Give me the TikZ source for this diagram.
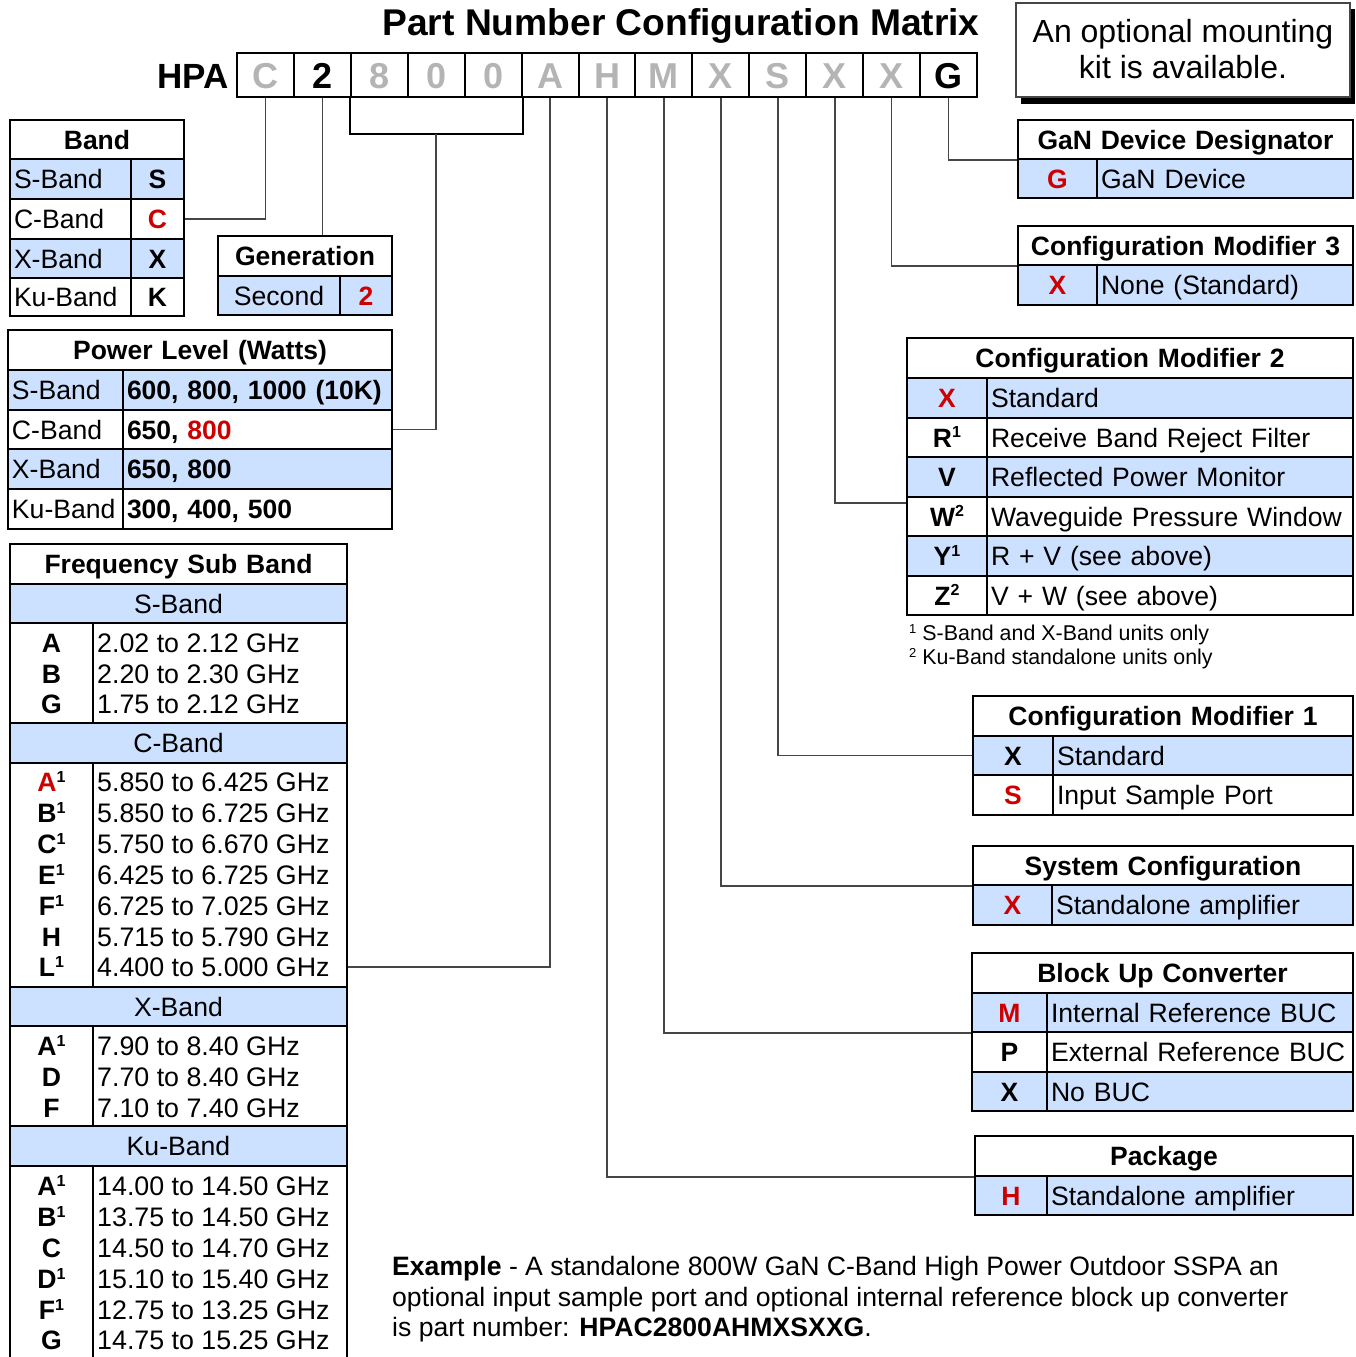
\documentclass[tikz,border=0pt]{standalone}
\usepackage{fontspec}
\setmainfont{Liberation Sans}
\usetikzlibrary{calc}
\definecolor{cellblue}{RGB}{204,224,255}
\definecolor{partred}{RGB}{204,0,0}
\definecolor{digitgray}{RGB}{180,180,180}
\definecolor{leader}{RGB}{70,70,70}
\newcommand\fsz[1]{\fontsize{#1}{#1}\selectfont}
\newcommand\sups[1]{\raisebox{9.5pt}[0pt][0pt]{\fontsize{16}{16}\selectfont #1}}
\newcommand\rd[1]{\textcolor{partred}{#1}}
\newcommand\cellbox[7]{%
  \pgfmathsetmacro\cbw{#4-#2}\pgfmathsetmacro\cbh{#5-#3}%
  \pgfmathsetmacro\cbt{#4-#2-8}%
  \pgfmathsetmacro\cbx{(#2+#4)/2}\pgfmathsetmacro\cby{(#3+#5)/2}%
  \node[tcell,#6,minimum width=\cbw pt,minimum height=\cbh pt,text width=\cbt pt] (#1) at (\cbx,\cby) {#7};}
\begin{document}
\begin{tikzpicture}[x=1pt,y=-1pt,
  tcell/.style={draw=black,line width=2.2pt,inner xsep=4pt,inner ysep=0pt,text height=19pt,text depth=0pt,font=\fsz{26.6},align=left},
  ctr/.style={align=center},
  hd/.style={align=center,font=\bfseries\fsz{26.5}},
  bd/.style={font=\bfseries\fsz{26.5}},
  bl/.style={fill=cellblue},
  dcell/.style={draw=black,line width=2pt,minimum width=56.923pt,minimum height=44pt,inner sep=0pt,text height=26pt,text depth=0pt,font=\bfseries\fsz{36}},
  fline/.style={inner sep=0pt,text height=19pt,text depth=0pt,font=\fsz{26.8}},
  fletter/.style={fline,font=\bfseries\fsz{26.6}},
  lead/.style={draw=leader,line width=1.6pt},
  brack/.style={draw=black,line width=2pt}]
\useasboundingbox (0,0) rectangle (1355,1357);
\clip (0,0) rectangle (1355,1357);

% title and part number
\node[anchor=base,inner sep=0pt,font=\bfseries\fsz{37.2}] (title) at (681,35) {Part Number Configuration Matrix};
\node[anchor=base east,inner sep=0pt,font=\bfseries\fsz{35}] (hpa) at (229,88) {HPA};
\foreach \c/\col [count=\i] in {C/digitgray,2/black,8/digitgray,0/digitgray,0/digitgray,A/digitgray,H/digitgray,M/digitgray,X/digitgray,S/digitgray,X/digitgray,X/digitgray,G/black}
  \node[dcell,text=\col] (d\i) at ({237+(\i-0.5)*56.923},75) {\c};

% mounting kit note
\fill[black] (1021,9) rectangle (1355,104);
\node[draw=leader,fill=white,line width=1.2pt,minimum width=334pt,minimum height=94pt,align=center,inner sep=0pt,font=\fontsize{32}{36}\selectfont] (kit) at (1183,50) {\raisebox{2pt}{An optional mounting}\\\raisebox{2pt}{kit is available.}};

% Band
\cellbox{bh}{10}{120}{184}{159}{hd}{Band}
\cellbox{bSa}{10}{159}{131}{199}{bl}{S-Band}
\cellbox{bSb}{131}{159}{184}{199}{bl,hd}{S}
\cellbox{bCa}{10}{199}{131}{239}{}{C-Band}
\cellbox{bCb}{131}{199}{184}{239}{hd}{\rd{C}}
\cellbox{bXa}{10}{239}{131}{278}{bl}{X-Band}
\cellbox{bXb}{131}{239}{184}{278}{bl,hd}{X}
\cellbox{bKa}{10}{278}{131}{316}{}{Ku-Band}
\cellbox{bKb}{131}{278}{184}{316}{hd}{K}

% Generation
\cellbox{gh}{218}{236}{392}{276}{hd}{Generation}
\cellbox{ga}{218}{276}{340}{315}{bl,ctr}{Second}
\cellbox{gb}{340}{276}{392}{315}{bl,hd}{\rd{2}}

% Power level
\cellbox{ph}{8}{330}{392}{370}{hd}{Power Level (Watts)}
\cellbox{pSa}{8}{370}{123}{410}{bl}{S-Band}
\cellbox{pSb}{123}{370}{392}{410}{bl,bd}{600, 800, 1000 (10K)}
\cellbox{pCa}{8}{410}{123}{449}{}{C-Band}
\cellbox{pCb}{123}{410}{392}{449}{bd}{650, \rd{800}}
\cellbox{pXa}{8}{449}{123}{489}{bl}{X-Band}
\cellbox{pXb}{123}{449}{392}{489}{bl,bd}{650, 800}
\cellbox{pKa}{8}{489}{123}{529}{}{Ku-Band}
\cellbox{pKb}{123}{489}{392}{529}{bd}{300, 400, 500}

% Frequency sub band
\cellbox{fh}{10}{544}{347}{584}{hd}{Frequency Sub Band}
\cellbox{fS}{10}{584}{347}{623}{bl,ctr}{S-Band}
\cellbox{fSl}{10}{623}{93}{723}{}{}
\cellbox{fSv}{93}{623}{347}{723}{}{}
\cellbox{fC}{10}{723}{347}{763}{bl,ctr}{C-Band}
\cellbox{fCl}{10}{763}{93}{987}{}{}
\cellbox{fCv}{93}{763}{347}{987}{}{}
\cellbox{fX}{10}{987}{347}{1026}{bl,ctr}{X-Band}
\cellbox{fXl}{10}{1026}{93}{1126}{}{}
\cellbox{fXv}{93}{1026}{347}{1126}{}{}
\cellbox{fK}{10}{1126}{347}{1166}{bl,ctr}{Ku-Band}
\cellbox{fKl}{10}{1166}{93}{1380}{}{}
\cellbox{fKv}{93}{1166}{347}{1380}{}{}
\foreach \l/\v/\y [count=\i] in {A/2.02 to 2.12 GHz/643, B/2.20 to 2.30 GHz/674, G/1.75 to 2.12 GHz/704}{
  \node[fletter] (fSL\i) at (51.5,\y) {\l};
  \node[fline,anchor=west] (fSV\i) at (97,\y) {\v};}
\foreach \l/\v/\y [count=\i] in {{\rd{A}\sups{1}}/5.850 to 6.425 GHz/782, {B\sups{1}}/5.850 to 6.725 GHz/813, {C\sups{1}}/5.750 to 6.670 GHz/844, {E\sups{1}}/6.425 to 6.725 GHz/875, {F\sups{1}}/6.725 to 7.025 GHz/906, H/5.715 to 5.790 GHz/937, {L\sups{1}}/4.400 to 5.000 GHz/967}{
  \node[fletter] (fCL\i) at (51.5,\y) {\l};
  \node[fline,anchor=west] (fCV\i) at (97,\y) {\v};}
\foreach \l/\v/\y [count=\i] in {{A\sups{1}}/7.90 to 8.40 GHz/1046, D/7.70 to 8.40 GHz/1077, F/7.10 to 7.40 GHz/1108}{
  \node[fletter] (fXL\i) at (51.5,\y) {\l};
  \node[fline,anchor=west] (fXV\i) at (97,\y) {\v};}
\foreach \l/\v/\y [count=\i] in {{A\sups{1}}/14.00 to 14.50 GHz/1186, {B\sups{1}}/13.75 to 14.50 GHz/1217, C/14.50 to 14.70 GHz/1248, {D\sups{1}}/15.10 to 15.40 GHz/1279, {F\sups{1}}/12.75 to 13.25 GHz/1310, G/14.75 to 15.25 GHz/1340}{
  \node[fletter] (fKL\i) at (51.5,\y) {\l};
  \node[fline,anchor=west] (fKV\i) at (97,\y) {\v};}

% GaN device designator
\cellbox{nh}{1018}{120}{1353}{159}{hd}{GaN Device Designator}
\cellbox{na}{1018}{159}{1097}{198}{bl,hd}{\rd{G}}
\cellbox{nb}{1097}{159}{1353}{198}{bl}{GaN Device}

% Configuration modifier 3
\cellbox{mh3}{1018}{226}{1353}{265}{hd}{Configuration Modifier 3}
\cellbox{m3a}{1018}{265}{1097}{305}{bl,hd}{\rd{X}}
\cellbox{m3b}{1097}{265}{1353}{305}{bl}{None (Standard)}

% Configuration modifier 2
\cellbox{mh2}{907}{338}{1353}{378}{hd}{Configuration Modifier 2}
\cellbox{m2Xa}{907}{378}{987}{418}{bl,hd}{\rd{X}}
\cellbox{m2Xb}{987}{378}{1353}{418}{bl}{Standard}
\cellbox{m2Ra}{907}{418}{987}{457}{hd}{R\sups{1}}
\cellbox{m2Rb}{987}{418}{1353}{457}{}{Receive Band Reject Filter}
\cellbox{m2Va}{907}{457}{987}{497}{bl,hd}{V}
\cellbox{m2Vb}{987}{457}{1353}{497}{bl}{Reflected Power Monitor}
\cellbox{m2Wa}{907}{497}{987}{536}{hd}{W\sups{2}}
\cellbox{m2Wb}{987}{497}{1353}{536}{}{Waveguide Pressure Window}
\cellbox{m2Ya}{907}{536}{987}{576}{bl,hd}{Y\sups{1}}
\cellbox{m2Yb}{987}{536}{1353}{576}{bl}{R + V (see above)}
\cellbox{m2Za}{907}{576}{987}{615}{hd}{Z\sups{2}}
\cellbox{m2Zb}{987}{576}{1353}{615}{}{V + W (see above)}
\node[anchor=base west,inner sep=0pt,font=\fsz{21.4}] (fn1) at (909,640) {\raisebox{7pt}{\fsz{13}1}\hspace{6pt}S-Band and X-Band units only};
\node[anchor=base west,inner sep=0pt,font=\fsz{21.4}] (fn2) at (909,664) {\raisebox{7pt}{\fsz{13}2}\hspace{6pt}Ku-Band standalone units only};

% Configuration modifier 1
\cellbox{mh1}{973}{696}{1353}{736}{hd}{Configuration Modifier 1}
\cellbox{m1Xa}{973}{736}{1053}{775}{bl,hd}{X}
\cellbox{m1Xb}{1053}{736}{1353}{775}{bl}{Standard}
\cellbox{m1Sa}{973}{775}{1053}{815}{hd}{\rd{S}}
\cellbox{m1Sb}{1053}{775}{1353}{815}{}{Input Sample Port}

% System configuration
\cellbox{sh}{973}{846}{1353}{885}{hd}{System Configuration}
\cellbox{sa}{973}{885}{1052}{925}{bl,hd}{\rd{X}}
\cellbox{sb}{1052}{885}{1353}{925}{bl}{Standalone amplifier}

% Block up converter
\cellbox{uh}{972}{953}{1353}{993}{hd}{Block Up Converter}
\cellbox{uMa}{972}{993}{1047}{1032}{bl,hd}{\rd{M}}
\cellbox{uMb}{1047}{993}{1353}{1032}{bl}{Internal Reference BUC}
\cellbox{uPa}{972}{1032}{1047}{1072}{hd}{P}
\cellbox{uPb}{1047}{1032}{1353}{1072}{}{External Reference BUC}
\cellbox{uXa}{972}{1072}{1047}{1111}{bl,hd}{X}
\cellbox{uXb}{1047}{1072}{1353}{1111}{bl}{No BUC}

% Package
\cellbox{kh}{975}{1136}{1353}{1176}{hd}{Package}
\cellbox{ka}{975}{1176}{1047}{1215}{bl,hd}{\rd{H}}
\cellbox{kb}{1047}{1176}{1353}{1215}{bl}{Standalone amplifier}

% example
\node[anchor=base west,inner sep=0pt,font=\fsz{26.6}] (ex1) at (392,1275) {\textbf{Example} - A standalone 800W GaN C-Band High Power Outdoor SSPA an};
\node[anchor=base west,inner sep=0pt,font=\fsz{26.6}] (ex2) at (392,1306) {optional input sample port and optional internal reference block up converter};
\node[anchor=base west,inner sep=0pt,font=\fsz{26.6}] (ex3) at (392,1336) {is part number: \textbf{HPAC2800AHMXSXXG}.};

% connectors
\path (d4.south) ++(0,36) coordinate (br);
\path (m2Wa.north west) ++(0,7) coordinate (m2in);
\draw[brack] (d3.south west) |- (br) -| (d5.south east);
\draw[lead] (br) |- (pCb.east);
\draw[lead] (d1.south) |- (bCb.east);
\draw[lead] (d2.south) -- (d2.south |- gh.north);
\draw[lead] (d6.south) |- (fCv.east |- fCV7);
\draw[lead] (d7.south) |- (kh.south west);
\draw[lead] (d8.south) |- (uMa.south west);
\draw[lead] (d9.south) |- (sh.south west);
\draw[lead] (d10.south) |- (m1Xa.west);
\draw[lead] (d11.south) |- (m2in);
\draw[lead] (d12.south) |- (mh3.south west);
\draw[lead] (d13.south) |- (nh.south west);
\end{tikzpicture}
\end{document}
